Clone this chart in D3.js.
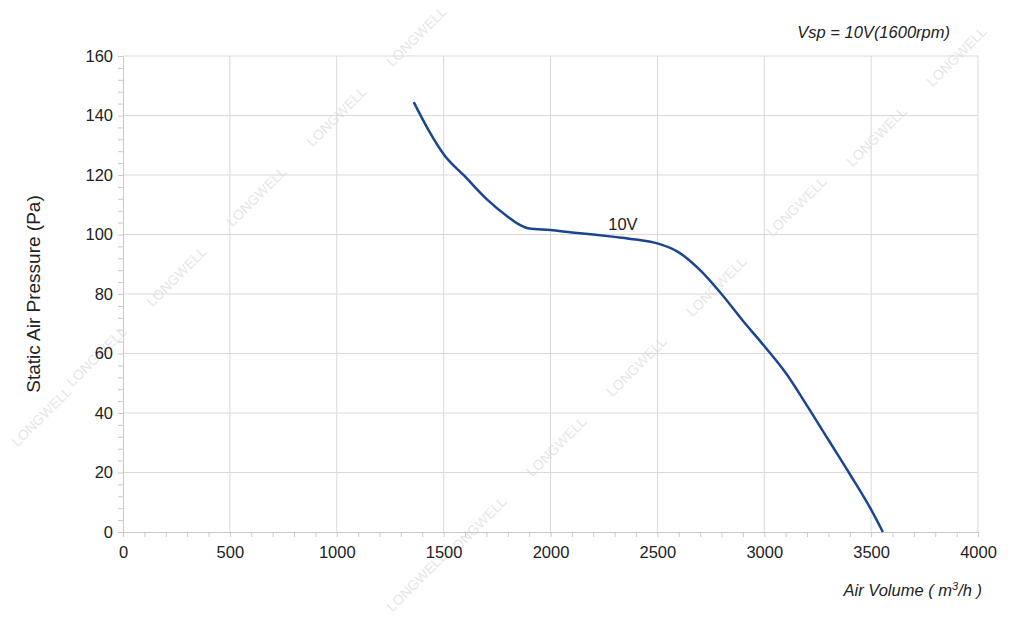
<!DOCTYPE html><html><head><meta charset="utf-8"><script src="https://d3js.org/d3.v7.min.js"></script>
<style>body{margin:0;background:#fff}text{font-family:"Liberation Sans",Arial,sans-serif}</style></head><body><svg id="c" width="1024" height="626"></svg><script>
const xTicks=[0,500,1000,1500,2000,2500,3000,3500,4000];
const yTicks=[0,20,40,60,80,100,120,140,160];
const airVolume=[1360,1430,1500,1600,1700,1800,1850,1900,2000,2100,2200,2300,2400,2500,2600,2700,2800,2900,3000,3100,3200,3300,3400,3500,3555];
const pressure=[144.5,135,127,119.5,112,106,103.5,102,101.5,100.7,100,99.2,98.3,97,94,88,80,71,62.5,53.5,42.5,31,19.5,7.5,0];
const svg=d3.select("#c");
const x=d3.scaleLinear().domain([0,4000]).range([123,978]);
const y=d3.scaleLinear().domain([0,160]).range([532,56]);
const wm=[[420,40],[340,120],[260,200],[180,280],[100,360],[45,420],[960,60],[880,140],[800,210],[720,290],[640,370],[560,450],[480,530],[420,585]];
svg.selectAll(".wm").data(wm).enter().append("text").attr("transform",d=>`translate(${d[0]},${d[1]}) rotate(-45)`)
 .attr("text-anchor","middle").attr("font-size",14).attr("fill","#e6e6e6").text("LONGWELL");
const g=svg.append("g");
g.selectAll(".gx").data(xTicks.slice(1)).enter().append("line").attr("x1",d=>x(d)).attr("x2",d=>x(d)).attr("y1",y(0)).attr("y2",y(160)).attr("stroke","#d9d9d9");
g.selectAll(".gy").data(yTicks.slice(1)).enter().append("line").attr("y1",d=>y(d)).attr("y2",d=>y(d)).attr("x1",x(0)).attr("x2",x(4000)).attr("stroke","#d9d9d9");
const xa=svg.append("g").attr("transform",`translate(0,${y(0)})`).call(d3.axisBottom(x).tickValues(d3.range(0,4001,100)).tickSize(5).tickFormat(d=>xTicks.includes(d)?d:""));
const ya=svg.append("g").attr("transform",`translate(${x(0)},0)`).call(d3.axisLeft(y).tickValues(d3.range(0,161,4)).tickSize(5).tickFormat(d=>yTicks.includes(d)?d:""));
[xa,ya].forEach(a=>{a.selectAll("path,line").attr("stroke","#c8c8c8");a.selectAll("text").attr("font-size",16.5).attr("fill","#222");});
xa.selectAll("text").attr("dy","1.1em");
ya.selectAll("text").attr("dx","-2");
svg.append("path").datum(airVolume.map((v,i)=>[v,pressure[i]])).attr("fill","none").attr("stroke","#1a4590").attr("stroke-width",2.5)
 .attr("d",d3.line().x(d=>x(d[0])).y(d=>y(d[1])).curve(d3.curveMonotoneX));
svg.append("text").attr("x",x(2270)).attr("y",y(101.5)).attr("font-size",16.5).attr("fill","#222").text("10V");
svg.append("text").attr("transform",`translate(40,${y(80)}) rotate(-90)`).attr("text-anchor","middle").attr("font-size",19).attr("fill","#222").text("Static Air Pressure  (Pa)");
const xl=svg.append("text").attr("x",982).attr("y",596).attr("text-anchor","end").attr("font-size",16.5).attr("font-style","italic").attr("fill","#222");
xl.append("tspan").text("Air Volume ( m");xl.append("tspan").attr("font-size",11).attr("dy",-6).text("3");xl.append("tspan").attr("dy",6).text("/h )");
svg.append("text").attr("x",950).attr("y",38).attr("text-anchor","end").attr("font-size",16.5).attr("font-style","italic").attr("fill","#222").text("Vsp = 10V(1600rpm)");
</script></body></html>
